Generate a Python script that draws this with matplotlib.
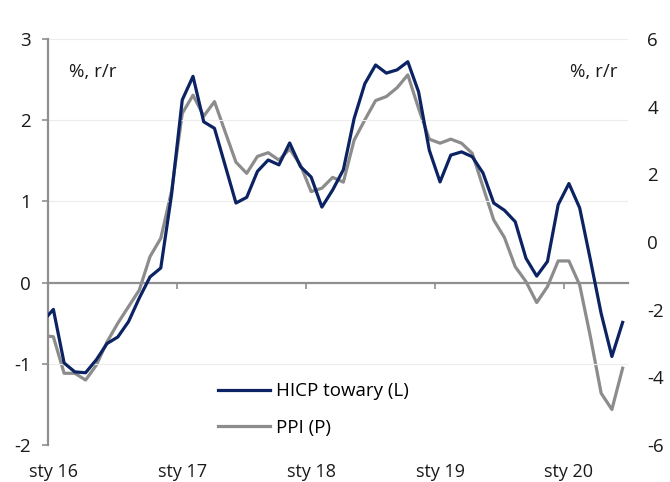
import numpy as np
import matplotlib
matplotlib.use("Agg")
import matplotlib.pyplot as plt
from matplotlib.ticker import FixedLocator, NullFormatter

plt.rcParams['font.family'] = ['Open Sans', 'DejaVu Sans']
plt.rcParams['axes.unicode_minus'] = False

# monthly data, Dec 2015 .. Jun 2020
months = [f"{m:02d}.{y}" for y, m in
          [(2015, 12)] + [(yy, mm) for yy in range(2016, 2021) for mm in range(1, 13)][:54]]

hicp_goods = [-0.48,
              -0.33, -0.99, -1.10, -1.11, -0.95, -0.75, -0.67, -0.48, -0.19, 0.07, 0.18, 1.08,
              2.25, 2.54, 1.98, 1.90, 1.44, 0.98, 1.05, 1.37, 1.51, 1.45, 1.72, 1.43,
              1.30, 0.93, 1.14, 1.39, 2.02, 2.45, 2.68, 2.58, 2.62, 2.72, 2.35, 1.63,
              1.24, 1.57, 1.61, 1.55, 1.35, 0.98, 0.89, 0.75, 0.30, 0.08, 0.26, 0.96,
              1.22, 0.92, 0.28, -0.38, -0.91, -0.49]

ppi = [-2.76,
       -2.80, -3.88, -3.88, -4.08, -3.64, -2.95, -2.40, -1.91, -1.42, -0.43, 0.11, 1.50,
       3.80, 4.34, 3.72, 4.15, 3.25, 2.36, 2.03, 2.53, 2.64, 2.42, 2.75, 2.28,
       1.49, 1.59, 1.91, 1.77, 3.01, 3.61, 4.18, 4.30, 4.56, 4.94, 3.95, 3.04,
       2.92, 3.04, 2.92, 2.62, 1.63, 0.65, 0.13, -0.73, -1.17, -1.79, -1.32, -0.56,
       -0.56, -1.27, -2.80, -4.47, -4.95, -3.73]

year_labels = ["sty 16", "sty 17", "sty 18", "sty 19", "sty 20"]
left_ticks = [-2, -1, 0, 1, 2, 3]
right_ticks = [-6, -4, -2, 0, 2, 4, 6]

navy = '#0c2363'
grey = '#8c8c8c'
axis_grey = '#8f8f8f'
fs = 13.5

x = np.arange(len(hicp_goods)) - 1  # 0 = Jan 2016

fig = plt.figure(figsize=(6.70, 4.82), dpi=100)
ax = fig.add_axes([48/670, 1-445/482, 580/670, 406/482])
ax2 = ax.twinx()

ax.set_xlim(-0.5, 53.5)
ax.set_ylim(-2, 3)
ax2.set_ylim(-6, 6)

# gridlines
for t in left_ticks:
    if t != 0:
        ax.axhline(t, color='#ececec', lw=0.8, zorder=0)

l1, = ax.plot(x, hicp_goods, color=navy, lw=2.3, label='HICP towary (L)', zorder=3)
l2, = ax2.plot(x, ppi, color=grey, lw=2.3, label='PPI (P)', zorder=2)
ax.set_zorder(ax2.get_zorder() + 1)
ax.patch.set_visible(False)

# spines
for s in ['top', 'right']:
    ax.spines[s].set_visible(False)
for s in ['top', 'right', 'left', 'bottom']:
    ax2.spines[s].set_visible(False)
ax.spines['left'].set_color(axis_grey)
ax.spines['left'].set_linewidth(1.6)
ax.spines['bottom'].set_position(('data', 0))
ax.spines['bottom'].set_color(axis_grey)
ax.spines['bottom'].set_linewidth(1.6)

# x ticks at year boundaries on zero line
year_pos = [12 * i for i in range(len(year_labels))]
bounds = [p - 0.5 for p in year_pos]
ax.xaxis.set_major_locator(FixedLocator(bounds))
ax.xaxis.set_major_formatter(NullFormatter())
ax.tick_params(axis='x', direction='out', length=4.5, width=1.2, color=axis_grey)

sec = ax.secondary_xaxis('bottom')
sec.spines['bottom'].set_visible(False)
sec.set_xticks(year_pos)
sec.set_xticklabels(year_labels, fontsize=13, color='#1a1a1a')
sec.tick_params(axis='x', length=0, pad=13)

ax.set_yticks(left_ticks)
ax.set_yticklabels([str(t) for t in left_ticks], fontsize=fs, color='#1a1a1a')
ax.tick_params(axis='y', direction='out', length=4.5, width=1.2, color=axis_grey, pad=8)

ax2.set_yticks(right_ticks)
ax2.set_yticklabels([str(t) for t in right_ticks], fontsize=fs, color='#1a1a1a')
ax2.tick_params(axis='y', length=0, pad=14)

fig.text(69/670, 1-72/482, '%, r/r', fontsize=fs, color='#1a1a1a', va='center', ha='left')
fig.text(617/670, 1-72/482, '%, r/r', fontsize=fs, color='#1a1a1a', va='center', ha='right')

ax.legend(handles=[l1, l2], loc='lower left', bbox_to_anchor=(0.293, 0.02),
          frameon=False, fontsize=fs, handlelength=2.8, handletextpad=0.3,
          labelspacing=1.0, borderpad=0, borderaxespad=0)

fig.savefig('out.png', dpi=100)
